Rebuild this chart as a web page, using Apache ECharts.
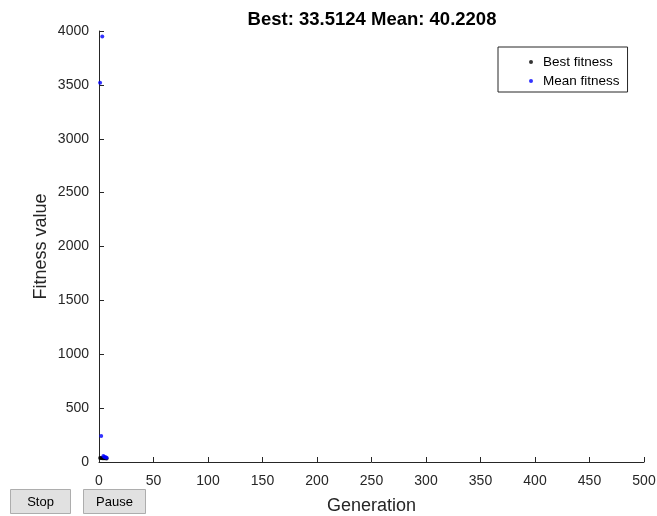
<!DOCTYPE html>
<html>
<head>
<meta charset="utf-8">
<script src="https://cdn.jsdelivr.net/npm/echarts@6/dist/echarts.min.js"></script>
<style>
html,body{margin:0;padding:0;background:#fff;}
#c{width:657px;height:516px;}
</style>
</head>
<body>
<div id="c"></div>
<script>
var titleText = 'Best: 33.5124 Mean: 40.2208';
var generations = [1, 2, 3, 4, 5, 6, 7];
var bestFitness = [37.5, 36.2, 35.1, 34.4, 34.0, 33.7, 33.5124];
var meanFitness = [3520, 241, 3950, 55.0, 46.8, 43.1, 40.2208];
var xTicks = [0, 50, 100, 150, 200, 250, 300, 350, 400, 450, 500];
var yTicks = [0, 500, 1000, 1500, 2000, 2500, 3000, 3500, 4000];

var chart = echarts.init(document.getElementById('c'), null, {renderer: 'canvas'});
var font = 'Liberation Sans, Arial, Helvetica, sans-serif';
function pairs(ys){ return generations.map(function(g,i){ return [g, ys[i]]; }); }
var axisCol = '#262626';
chart.setOption({
  animation: false,
  backgroundColor: '#ffffff',
  textStyle: {fontFamily: font},
  title: {
    text: titleText, left: 367, top: 5, textAlign: 'center',
    textStyle: {fontSize: 18.5, fontWeight: 'bold', color: '#000', fontFamily: font}
  },
  grid: {left: 99, right: 13, top: 31, bottom: 54, containLabel: false, outerBoundsMode: 'none'},
  legend: {
    orient: 'vertical', left: 498, top: 47,
    padding: [8, 8, 4, 31], itemGap: 5,
    borderColor: '#262626', borderWidth: 1, borderRadius: 0,
    backgroundColor: '#fff',
    icon: 'circle', itemWidth: 14, itemHeight: 4,
    textStyle: {fontSize: 13.5, color: '#000', fontFamily: font},
    data: ['Best fitness', 'Mean fitness']
  },
  xAxis: {
    type: 'value', min: xTicks[0], max: xTicks[xTicks.length-1], interval: 50,
    name: 'Generation', nameLocation: 'middle', nameGap: 35,
    nameTextStyle: {fontSize: 18, color: axisCol, fontFamily: font},
    axisLine: {show: true, onZero: false, lineStyle: {color: axisCol, width: 1}},
    axisTick: {show: true, inside: true, length: 5, lineStyle: {color: axisCol}},
    axisLabel: {fontSize: 14, color: axisCol, margin: 12, fontFamily: font,
      formatter: function(v){ return String(v); }},
    splitLine: {show: false}
  },
  yAxis: {
    type: 'value', min: yTicks[0], max: yTicks[yTicks.length-1], interval: 500,
    name: 'Fitness value', nameLocation: 'middle', nameGap: 49, nameMoveOverlap: false,
    nameTextStyle: {fontSize: 18, color: axisCol, fontFamily: font},
    axisLine: {show: true, onZero: false, lineStyle: {color: axisCol, width: 1}},
    axisTick: {show: true, inside: true, length: 5, lineStyle: {color: axisCol}},
    axisLabel: {fontSize: 14, color: axisCol, margin: 10, fontFamily: font,
      formatter: function(v){ return String(v); }},
    splitLine: {show: false}
  },
  series: [
    {name: 'Best fitness', type: 'scatter', data: pairs(bestFitness), symbol: 'circle', symbolSize: 4,
     itemStyle: {color: '#000000'}, z: 2},
    {name: 'Mean fitness', type: 'scatter', data: pairs(meanFitness), symbol: 'circle', symbolSize: 4,
     itemStyle: {color: '#0000ff'}, z: 3}
  ],
  graphic: [
    {type: 'group', left: 10, top: 489, children: [
      {type: 'rect', shape: {x: 0, y: 0, width: 60, height: 24}, style: {fill: '#e1e1e1', stroke: '#adadad', lineWidth: 1}},
      {type: 'text', style: {x: 30, y: 13, text: 'Stop', align: 'center', verticalAlign: 'middle', fontSize: 13, fill: '#000', fontFamily: font}}
    ]},
    {type: 'group', left: 83, top: 489, children: [
      {type: 'rect', shape: {x: 0, y: 0, width: 62, height: 24}, style: {fill: '#e1e1e1', stroke: '#adadad', lineWidth: 1}},
      {type: 'text', style: {x: 31, y: 13, text: 'Pause', align: 'center', verticalAlign: 'middle', fontSize: 13, fill: '#000', fontFamily: font}}
    ]}
  ]
});
</script>
</body>
</html>
